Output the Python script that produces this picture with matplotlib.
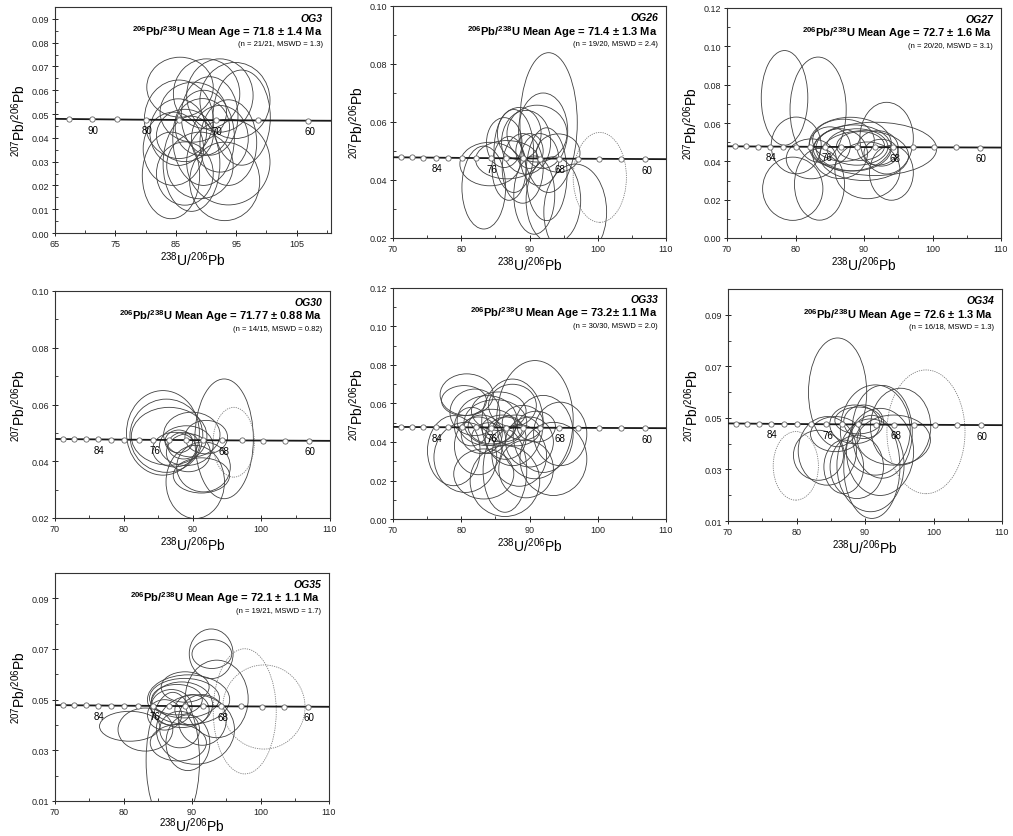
import numpy as np
import matplotlib
matplotlib.use('Agg')
import matplotlib.pyplot as plt
from matplotlib.patches import Ellipse
from matplotlib.ticker import MultipleLocator

plt.rcParams['font.family'] = ['Liberation Sans', 'DejaVu Sans']
plt.rcParams['mathtext.fontset'] = 'custom'
plt.rcParams['mathtext.rm'] = 'Liberation Sans'
plt.rcParams['mathtext.bf'] = 'Liberation Sans:bold'
plt.rcParams['mathtext.it'] = 'Liberation Sans:italic'

# ellipses: (238U/206Pb, 207Pb/206Pb, half-width, half-height)
og3_ell = [
    (85.7, 0.0613, 5.5, 0.0126), (84.2, 0.0242, 4.75, 0.0182), (93.1, 0.0217, 5.8, 0.0165),
    (95.9, 0.0485, 4.75, 0.0200), (90.1, 0.0585, 5.5, 0.0147), (85.5, 0.0478, 5.7, 0.0165),
    (89.6, 0.0400, 5.1, 0.0200), (87.6, 0.0291, 4.7, 0.0200), (93.7, 0.0298, 6.9, 0.0180),
    (85.4, 0.0424, 4.7, 0.0140), (90.6, 0.0492, 4.7, 0.0165), (93.7, 0.0380, 4.7, 0.0180),
    (86.5, 0.0250, 4.7, 0.0133), (94.8, 0.0557, 5.8, 0.0160), (89.4, 0.0445, 4.5, 0.0120),
    (86.5, 0.0410, 4.7, 0.0110), (84.6, 0.0354, 5.0, 0.0154), (92.3, 0.0578, 5.5, 0.0154),
    (89.0, 0.0284, 5.5, 0.0140), (87.9, 0.0508, 5.5, 0.0126), (92.3, 0.0396, 4.7, 0.0140),
]
og3_rej = []

og26_ell = [
    (92.8, 0.0598, 4.2, 0.0241), (92.0, 0.0570, 3.6, 0.0130), (83.3, 0.0374, 3.2, 0.0143),
    (84.2, 0.0455, 4.4, 0.0075), (86.7, 0.0470, 4.6, 0.0066), (86.3, 0.0529, 2.6, 0.0086),
    (87.7, 0.0500, 2.9, 0.0143), (89.5, 0.0530, 3.6, 0.0110), (90.7, 0.0348, 3.0, 0.0135),
    (96.7, 0.0290, 4.6, 0.0165), (93.5, 0.0330, 4.0, 0.0150), (91.1, 0.0560, 4.4, 0.0098),
    (94.2, 0.0493, 3.2, 0.0066), (89.0, 0.0440, 3.0, 0.0120), (91.5, 0.0470, 2.8, 0.0090),
    (88.5, 0.0560, 3.2, 0.0090), (90.0, 0.0500, 2.0, 0.0060), (92.5, 0.0420, 3.0, 0.0160),
    (87.0, 0.0440, 2.5, 0.0110),
]
og26_rej = [(100.3, 0.0409, 3.9, 0.0155)]

og27_ell = [
    (78.4, 0.0731, 3.4, 0.0247), (83.3, 0.0670, 4.1, 0.0274), (79.6, 0.0257, 4.4, 0.0165),
    (83.5, 0.0280, 3.65, 0.0187), (90.5, 0.0353, 4.75, 0.0148), (94.0, 0.0340, 3.2, 0.0143),
    (93.3, 0.0521, 3.9, 0.0187), (91.6, 0.0465, 9.0, 0.0139), (80.1, 0.0483, 3.65, 0.0148),
    (82.3, 0.0413, 3.65, 0.0104), (88.5, 0.0470, 5.5, 0.0120), (89.0, 0.0475, 4.5, 0.0095),
    (89.5, 0.0480, 3.5, 0.0075), (88.0, 0.0490, 6.0, 0.0140), (86.5, 0.0440, 4.0, 0.0130),
    (92.0, 0.0470, 3.0, 0.0090), (90.0, 0.0430, 6.5, 0.0130), (85.0, 0.0480, 3.0, 0.0100),
    (87.0, 0.0510, 4.5, 0.0110), (92.5, 0.0445, 2.5, 0.0070),
]
og27_rej = []

og30_ell = [
    (94.6, 0.0479, 4.25, 0.0211), (90.4, 0.0327, 4.25, 0.0129), (91.3, 0.0350, 4.1, 0.0062),
    (85.7, 0.0500, 5.3, 0.0149), (86.2, 0.0490, 5.3, 0.0129), (86.6, 0.0488, 5.5, 0.0102),
    (89.9, 0.0494, 4.1, 0.0079), (92.0, 0.0485, 3.1, 0.0059), (87.4, 0.0441, 3.2, 0.0061),
    (89.4, 0.0430, 3.2, 0.0067), (91.6, 0.0380, 3.9, 0.0088), (89.1, 0.0455, 3.9, 0.0070),
    (88.7, 0.0455, 2.3, 0.0047), (88.0, 0.0470, 2.0, 0.0040),
]
og30_rej = [(96.0, 0.0467, 3.0, 0.0123)]

og33_ell = [
    (80.8, 0.0646, 3.9, 0.0108), (80.4, 0.0615, 3.3, 0.0078), (90.8, 0.0516, 5.6, 0.0307),
    (87.5, 0.0502, 4.5, 0.0225), (78.9, 0.0355, 3.85, 0.0182), (80.6, 0.0320, 4.6, 0.0182),
    (86.4, 0.0197, 5.1, 0.0184), (86.4, 0.0251, 3.2, 0.0216), (83.3, 0.0234, 4.4, 0.0130),
    (93.5, 0.0312, 4.9, 0.0190), (94.5, 0.0442, 3.9, 0.0165), (92.0, 0.0442, 4.4, 0.0200),
    (82.0, 0.0554, 3.65, 0.0121), (83.8, 0.0511, 4.4, 0.0130), (85.0, 0.0500, 4.6, 0.0120),
    (84.5, 0.0480, 3.5, 0.0090), (86.0, 0.0470, 3.0, 0.0070), (88.0, 0.0460, 3.5, 0.0080),
    (89.0, 0.0500, 3.0, 0.0090), (83.0, 0.0440, 3.0, 0.0100), (82.5, 0.0380, 3.5, 0.0150),
    (88.5, 0.0330, 4.0, 0.0160), (90.0, 0.0400, 3.5, 0.0130), (85.5, 0.0560, 4.0, 0.0100),
    (87.5, 0.0590, 3.5, 0.0110), (91.0, 0.0480, 2.8, 0.0080), (84.0, 0.0420, 2.5, 0.0080),
    (86.5, 0.0420, 3.0, 0.0110), (81.5, 0.0480, 2.5, 0.0100), (89.5, 0.0260, 4.0, 0.0150),
]
og33_rej = []

og34_ell = [
    (86.0, 0.0599, 4.25, 0.0211), (83.2, 0.0355, 3.65, 0.0097), (84.5, 0.0372, 4.25, 0.0133),
    (85.7, 0.0437, 3.65, 0.0068), (86.9, 0.0310, 2.9, 0.0104), (91.5, 0.0453, 5.1, 0.0175),
    (92.5, 0.0446, 4.4, 0.0180), (90.8, 0.0316, 4.9, 0.0180), (91.0, 0.0310, 4.1, 0.0200),
    (89.8, 0.0485, 2.9, 0.0065), (89.0, 0.0490, 3.4, 0.0052), (88.5, 0.0475, 3.65, 0.0075),
    (94.2, 0.0414, 5.35, 0.0097), (92.2, 0.0368, 4.9, 0.0169), (95.2, 0.0466, 4.4, 0.0149),
    (88.8, 0.0310, 3.9, 0.0123),
]
og34_rej = [(79.9, 0.0314, 3.3, 0.0133), (98.9, 0.0446, 5.7, 0.0240)]

og35_ell = [
    (92.8, 0.0681, 3.2, 0.0098), (92.9, 0.0680, 2.9, 0.0057), (87.2, 0.0259, 3.9, 0.0270),
    (93.6, 0.0503, 4.6, 0.0153), (90.5, 0.0382, 5.7, 0.0137), (80.9, 0.0395, 4.4, 0.0059),
    (83.2, 0.0382, 4.0, 0.0085), (89.5, 0.0500, 6.0, 0.0098), (88.9, 0.0506, 5.1, 0.0078),
    (87.8, 0.0500, 3.7, 0.0060), (89.4, 0.0330, 3.2, 0.0110), (88.2, 0.0382, 2.9, 0.0072),
    (88.0, 0.0330, 4.1, 0.0072), (88.5, 0.0480, 4.5, 0.0090), (87.0, 0.0470, 3.0, 0.0070),
    (90.0, 0.0460, 2.5, 0.0060), (91.5, 0.0420, 3.5, 0.0100), (86.0, 0.0440, 2.5, 0.0060),
    (89.0, 0.0550, 3.5, 0.0060),
]
og35_rej = [(97.7, 0.0454, 4.6, 0.0247), (100.5, 0.0471, 6.0, 0.0166)]

samples = ['OG3', 'OG26', 'OG27', 'OG30', 'OG33', 'OG34', 'OG35']
ages = ['71.8 ± 1.4', '71.4 ± 1.3', '72.7 ± 1.6', '71.77 ± 0.88', '73.2± 1.1', '72.6 ± 1.3', '72.1 ± 1.1']
stats = ['(n = 21/21, MSWD = 1.3)', '(n = 19/20, MSWD = 2.4)', '(n = 20/20, MSWD = 3.1)',
         '(n = 14/15, MSWD = 0.82)', '(n = 30/30, MSWD = 2.0)', '(n = 16/18, MSWD = 1.3)',
         '(n = 19/21, MSWD = 1.7)']
ellipses = [og3_ell, og26_ell, og27_ell, og30_ell, og33_ell, og34_ell, og35_ell]
rejected = [og3_rej, og26_rej, og27_rej, og30_rej, og33_rej, og34_rej, og35_rej]

# concordia marker ages (Ma)
marks_coarse = [95, 90, 85, 80, 75, 70, 65, 60]
labels_coarse = [90, 80, 70, 60]
marks_fine = [90, 88, 86, 84, 82, 80, 78, 76, 74, 72, 70, 68, 66, 64, 62, 60]
labels_fine = [84, 76, 68, 60]

# axes boxes in pixels: left, top, right, bottom
boxes = [(55, 8, 331, 234), (393, 7, 666, 239), (727, 9, 1001, 239),
         (55, 292, 330, 519), (393, 289, 666, 520), (728, 290, 1002, 522),
         (55, 574, 329, 802)]
xlims = [(65, 110.7)] + [(70, 110)] * 6
ylims = [(0, 0.095), (0.02, 0.10), (0, 0.12), (0.02, 0.10), (0, 0.12), (0.01, 0.10), (0.01, 0.10)]

L238 = 1.55125e-10
L235 = 9.8485e-10
U_RATIO = 137.88


def tw(age_ma):
    # Tera-Wasserburg concordia coordinates for ages in Ma
    t = np.asarray(age_ma, dtype=float) * 1e6
    e238 = np.exp(L238 * t) - 1
    e235 = np.exp(L235 * t) - 1
    return 1 / e238, e235 / e238 / U_RATIO


W, H = 1013, 837
fig = plt.figure(figsize=(W / 100, H / 100), dpi=100, facecolor='white')

for i, name in enumerate(samples):
    l, t, r, b = boxes[i]
    ax = fig.add_axes([l / W, 1 - b / H, (r - l) / W, (b - t) / H])
    ax.set_xlim(*xlims[i])
    ax.set_ylim(*ylims[i])

    for (cx, cy, hw, hh) in ellipses[i]:
        ax.add_patch(Ellipse((cx, cy), 2 * hw, 2 * hh, fill=False,
                             edgecolor='#404040', lw=0.6, zorder=2))
    for (cx, cy, hw, hh) in rejected[i]:
        ax.add_patch(Ellipse((cx, cy), 2 * hw, 2 * hh, fill=False,
                             edgecolor='#808080', lw=0.6, ls=(0, (1.5, 1.2)), zorder=2))

    # concordia curve
    curve_x, curve_y = tw(np.linspace(56, 100, 300))
    ax.plot(curve_x, curve_y, color='#1a1a1a', lw=1.3, zorder=3)
    if i == 0:
        marks, labs = marks_coarse, labels_coarse
    else:
        marks, labs = marks_fine, labels_fine
    mx, my = tw(marks)
    ax.plot(mx, my, ls='none', marker='o', ms=3.8, mfc='white', mec='#666666',
            mew=0.6, zorder=4)
    lx, ly = tw(labs)
    for a, x0, y0 in zip(labs, lx, ly):
        ax.annotate(str(a), (x0, y0), xytext=(1, -4), textcoords='offset points',
                    ha='center', va='top', fontsize=7, zorder=5)

    # ticks
    if i == 0:
        ax.set_xticks([65, 75, 85, 95, 105])
        ax.xaxis.set_minor_locator(MultipleLocator(5))
        ax.yaxis.set_major_locator(MultipleLocator(0.01))
        ax.yaxis.set_minor_locator(MultipleLocator(0.005))
    else:
        ax.xaxis.set_major_locator(MultipleLocator(10))
        ax.xaxis.set_minor_locator(MultipleLocator(5))
        if i in (5, 6):
            ax.set_yticks([0.01, 0.03, 0.05, 0.07, 0.09])
        else:
            ax.yaxis.set_major_locator(MultipleLocator(0.02))
        ax.yaxis.set_minor_locator(MultipleLocator(0.01))
    ax.yaxis.set_major_formatter(plt.FuncFormatter(lambda v, p: f'{v:.2f}'))
    ax.tick_params(which='major', direction='inout', length=4, width=0.7,
                   labelsize=6.5, pad=2, colors='#222222')
    ax.tick_params(which='minor', direction='in', length=2, width=0.6, colors='#222222')
    ax.tick_params(top=False, right=False, which='both')
    for sp in ax.spines.values():
        sp.set_linewidth(0.8)
        sp.set_color('#333333')

    ax.set_xlabel(r'$^{238}$U/$^{206}$Pb', fontsize=10, labelpad=(0 if i == 6 else 1))
    ax.set_ylabel(r'$^{207}$Pb/$^{206}$Pb', fontsize=10, labelpad=3)

    ax.text(0.97, 0.94, name, transform=ax.transAxes, ha='right', va='baseline',
            fontsize=7.5, fontweight='bold', fontstyle='italic', zorder=6)
    ax.text(0.97, 0.877, r'$\mathbf{^{206}}$Pb/$\mathbf{^{238}}$U Mean Age = ' + ages[i] + ' Ma',
            transform=ax.transAxes, ha='right', va='baseline',
            fontsize=8, fontweight='bold', zorder=6)
    ax.text(0.97, 0.83, stats[i], transform=ax.transAxes, ha='right', va='baseline',
            fontsize=5.5, zorder=6)

fig.savefig('out.png', dpi=100, facecolor='white')
